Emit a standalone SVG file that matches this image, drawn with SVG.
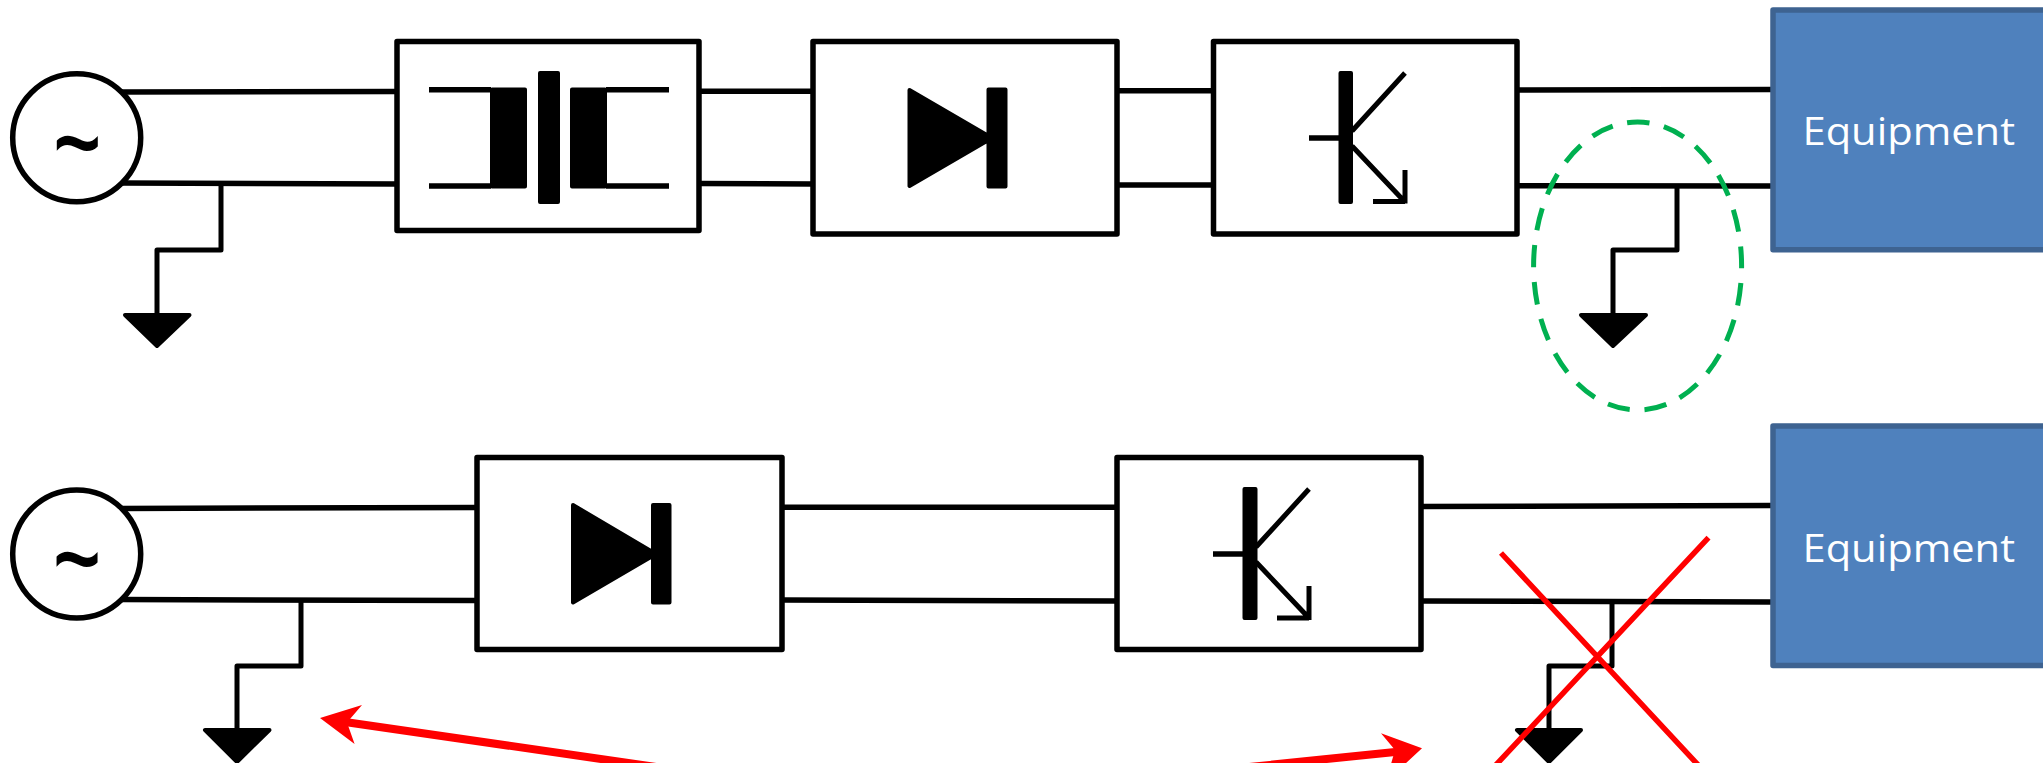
<svg xmlns="http://www.w3.org/2000/svg" width="2043" height="763" viewBox="0 0 2043 763">
<style>
.w{fill:none;stroke:#000;stroke-width:5.5;stroke-linejoin:round}
.g{fill:none;stroke:#000;stroke-width:5;stroke-linejoin:round}
.b{fill:#fff;stroke:#000;stroke-width:5.5;stroke-linejoin:round}
.k{fill:#000;stroke:#000;stroke-width:4;stroke-linejoin:round}
.t{fill:none;stroke:#000;stroke-width:5}
.eq{fill:#4f81bd;stroke:#3e6391;stroke-width:5.5;stroke-linejoin:round}
.lab{font-family:"Open Sans","Liberation Sans",sans-serif;font-size:39px;fill:#fff}
.til{font-family:"Liberation Sans",sans-serif;font-size:76px;text-anchor:middle;fill:#000;stroke:#000;stroke-width:1.500}
.r{fill:none;stroke:#f00;stroke-width:5.5}
.ra{fill:none;stroke:#f00;stroke-width:8}
</style>
<rect width="2043" height="763" fill="#fff"/>
<g id="connectors">
<path class="w" d="M120 92L397 91.500M120 183L397 184M700 91.300H813M700 183.500L813 184M1117 90.700H1214M1117 185H1214M1517 90L1772 89.500M1517 185.700L1772 186"/>
<path class="g" d="M221 184V250H157V313M1677 186V250H1613V313"/>
<path class="w" d="M120 508.500L477 507.500M120 599.500L477 600.500M782 507.300H1117M782 600L1117 601M1421 506.500L1772 505.500M1421 601L1772 602"/>
<path class="g" d="M301 600V666H237V728M1612 602V666H1549V728"/>
</g>
<g id="source1"><ellipse class="b" cx="76.700" cy="137.700" rx="64" ry="64"/><text class="til" transform="translate(77.300 179) scale(1.05 1.4)">~</text></g>
<g id="source2"><ellipse class="b" cx="76.700" cy="554" rx="64" ry="64"/><text class="til" transform="translate(77 595) scale(1.05 1.4)">~</text></g>
<g id="ground1"><path class="k" d="M125 315H189.500L157 346Z"/></g>
<g id="ground2"><path class="k" d="M1581 315H1646L1613 346Z"/></g>
<g id="ground3"><path class="k" d="M205 730H269.500L237 762Z"/></g>
<g id="ground4"><path class="k" d="M1517 730H1581L1549 762Z"/></g>
<g id="capacitor-box">
<rect class="b" x="397" y="41.500" width="302" height="189"/>
<path class="k" d="M492 89.500H525V186.500H492ZM540 73H558V202H540ZM572 89.500H605V186.500H572Z"/>
<path d="M429 89.700H491M429 186H491M606 89.700H669M606 186H669" stroke="#000" stroke-width="5.500" fill="none"/>
</g>
<g id="diode-box1">
<rect class="b" x="813" y="41.500" width="304" height="192.500"/>
<path class="k" d="M909.500 90L992 138L909.500 186ZM988.500 89.500H1005.500V186.500H988.500Z"/>
</g>
<g id="transistor-box1">
<rect class="b" x="1213.500" y="41.500" width="303.500" height="192.500"/>
<path class="k" d="M1340.500 73H1351V202H1340.500Z"/>
<path d="M1309 138H1340" stroke="#000" stroke-width="5.500" fill="none"/>
<path class="t" d="M1352 131L1405 73M1352 146L1405 202M1405 170V203.500M1373 201.500H1405"/>
</g>
<g id="equipment1"><rect class="eq" x="1773" y="10" width="276" height="239.700"/><text class="lab" x="1802.500" y="145" textLength="212.500" lengthAdjust="spacingAndGlyphs">Equipment</text></g>
<g id="diode-box2">
<rect class="b" x="477" y="457.500" width="305" height="192"/>
<path class="k" d="M573 505L656 554L573 602.500ZM653 505H669.500V602.500H653Z"/>
</g>
<g id="transistor-box2">
<rect class="b" x="1117" y="457.500" width="304" height="192"/>
<path class="k" d="M1244.500 489H1255.500V618H1244.500Z"/>
<path d="M1213 554H1244" stroke="#000" stroke-width="5.500" fill="none"/>
<path class="t" d="M1256 547L1309 489M1256 562L1309 618M1309 586V620M1277 618H1309"/>
</g>
<g id="equipment2"><rect class="eq" x="1773" y="426" width="276" height="239.500"/><text class="lab" x="1802.500" y="561.500" textLength="212.500" lengthAdjust="spacingAndGlyphs">Equipment</text></g>
<g id="highlight-ellipse"><ellipse cx="1637.600" cy="266" rx="104" ry="144" fill="none" stroke="#00b050" stroke-width="5" stroke-dasharray="22.500 14.840" stroke-dashoffset="20.200"/></g>
<g id="annotations">
<path class="r" d="M1501 553L1700 767M1708.500 537.700L1494 767"/>
<path class="ra" d="M345 722L670 769M1400 751.400L1230 769"/>
<path fill="#f00" d="M320 718L362 705L347 722.500L354.600 744ZM1422 748.300L1381 733.300L1395 750L1391 764H1405Z"/>
</g>
</svg>
